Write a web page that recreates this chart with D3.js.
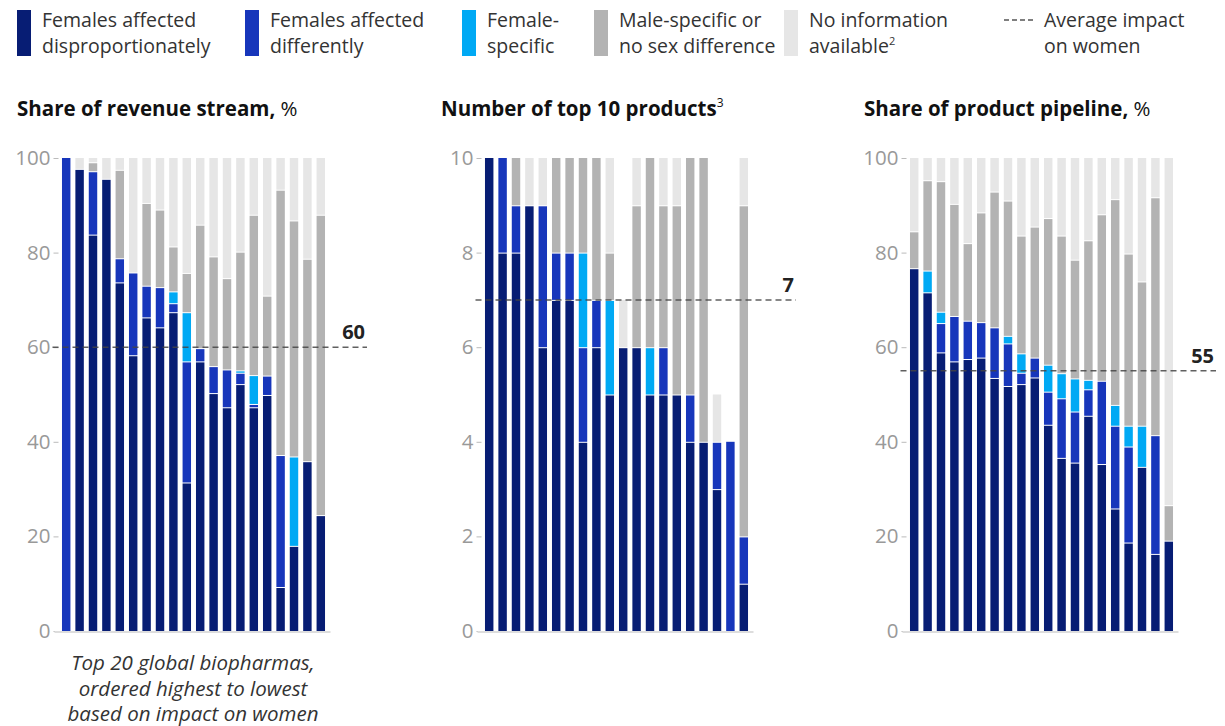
<!DOCTYPE html>
<html lang="en">
<head>
<meta charset="UTF-8" />
<title>Impact on women by biopharma</title>
<script src="https://d3js.org/d3.v7.min.js"></script>
<style>
    body { margin: 0; background: #fff; }
    svg { font-family: "Open Sans", Roboto, "Liberation Sans", Arial, sans-serif; }
</style>
</head>
<body>
<script>
    // categories, bottom to top of each stack
    var keys = ["disp", "diff", "fs", "male", "none"];
    var companies = d3.range(1, 21);

    // Share of revenue stream, %
    var revDisp = [0, 97.7, 83.8, 95.6, 73.7, 58.3, 66.3, 64.2, 67.4, 31.4, 57.0, 50.3, 47.3, 52.2, 47.3, 49.9, 9.3, 18.0, 35.9, 24.5];
    var revDiff = [100, 0, 13.4, 0, 5.1, 17.5, 6.7, 8.5, 1.9, 25.6, 2.8, 5.7, 8.0, 2.4, 0.7, 4.1, 27.9, 0, 0, 0];
    var revFs = [0, 0, 0, 0, 0, 0, 0, 0, 2.5, 10.4, 0, 0, 0, 0.5, 6.1, 0, 0, 18.9, 0, 0];
    var revMale = [0, 0, 1.9, 0, 18.7, 0, 17.5, 16.4, 9.5, 8.3, 26.1, 23.2, 19.3, 25.1, 33.9, 16.9, 56.1, 49.9, 42.8, 63.5];
    var revNone = [0, 2.3, 0.9, 4.4, 2.5, 24.2, 9.5, 10.9, 18.7, 24.3, 14.1, 20.8, 25.4, 19.8, 12.0, 29.1, 6.7, 13.2, 21.3, 12.0];

    // Number of top 10 products
    var prodDisp = [10, 8, 8, 9, 6, 7, 7, 4, 6, 5, 6, 6, 5, 5, 5, 4, 4, 3, 0, 1];
    var prodDiff = [0, 2, 1, 0, 3, 1, 1, 2, 1, 0, 0, 0, 0, 1, 0, 1, 0, 1, 4, 1];
    var prodFs = [0, 0, 0, 0, 0, 0, 0, 2, 0, 2, 0, 0, 1, 0, 0, 0, 0, 0, 0, 0];
    var prodMale = [0, 0, 1, 0, 0, 2, 2, 2, 3, 1, 0, 3, 4, 3, 4, 5, 6, 0, 0, 7];
    var prodNone = [0, 0, 0, 1, 1, 0, 0, 0, 0, 2, 1, 1, 0, 1, 1, 0, 0, 1, 0, 1];

    // Share of product pipeline, %
    var pipeDisp = [76.7, 71.6, 58.9, 57.0, 57.5, 57.8, 53.5, 51.8, 52.2, 53.6, 43.6, 36.6, 35.6, 45.5, 35.3, 25.9, 18.7, 34.7, 16.3, 19.1];
    var pipeDiff = [0, 0, 6.2, 9.6, 8.1, 7.5, 10.7, 9.0, 2.4, 4.2, 7.0, 12.6, 10.8, 5.6, 17.6, 17.5, 20.3, 0, 25.1, 0];
    var pipeFs = [0, 4.6, 2.4, 0, 0, 0, 0, 1.6, 4.1, 0, 5.7, 5.3, 7.0, 2.0, 0, 4.4, 4.4, 8.7, 0, 0];
    var pipeMale = [7.8, 19.1, 27.6, 23.7, 16.4, 23.2, 28.7, 28.6, 24.9, 27.7, 31.0, 29.1, 25.1, 29.5, 35.2, 43.5, 36.4, 30.5, 50.3, 7.5];
    var pipeNone = [15.5, 4.7, 4.9, 9.7, 18.0, 11.5, 7.1, 9.0, 16.4, 14.5, 12.7, 16.4, 21.5, 17.4, 11.9, 8.7, 20.2, 26.1, 8.3, 73.4];

    // averages and ticks
    var averages = [60, 7, 55];
    var pctTicks = [0, 20, 40, 60, 80, 100];
    var countTicks = [0, 2, 4, 6, 8, 10];

    var legendLabels = [
        ["Females affected", "disproportionately"],
        ["Females affected", "differently"],
        ["Female-", "specific"],
        ["Male-specific or", "no sex difference"],
        ["No information", "available"],
        ["Average impact", "on women"]
    ];

    var color = d3.scaleOrdinal()
        .domain(keys)
        .range(["#071d74", "#1736bb", "#00a9f4", "#b3b3b3", "#e6e6e6"]);

    var w = 1225;
    var h = 726;

    var svg = d3.select("body")
        .append("svg")
        .attr("width", w)
        .attr("height", h);

    // legend
    var legendX = [17, 245, 462, 594, 784, 1004];
    legendLabels.forEach(function (lab, i) {
        var g = svg.append("g").attr("transform", "translate(" + legendX[i] + ",0)");
        var tx = 25;
        if (i < 5) {
            g.append("rect")
                .attr("x", 0).attr("y", 10)
                .attr("width", 14).attr("height", 46)
                .attr("fill", color(keys[i]));
        } else {
            g.append("line")
                .attr("x1", 0).attr("x2", 30)
                .attr("y1", 20).attr("y2", 20)
                .attr("stroke", "#555")
                .attr("stroke-width", 1.5)
                .attr("stroke-dasharray", "5,3");
            tx = 40;
        }
        var t = g.append("text")
            .attr("fill", "#333")
            .attr("font-size", 19.5);
        t.append("tspan").attr("x", tx).attr("y", 27).text(lab[0]);
        t.append("tspan").attr("x", tx).attr("y", 53).text(lab[1]);
        if (i === 4) {
            t.append("tspan").attr("font-size", 11).attr("dy", -8).text("2");
        }
    });

    var panels = [
        { title: "Share of revenue stream,", unit: " %", sup: "", x0: 59.5, max: 100, ticks: pctTicks,
          avg: averages[0], avgX1: 367, series: [revDisp, revDiff, revFs, revMale, revNone] },
        { title: "Number of top 10 products", unit: "", sup: "3", x0: 482.5, max: 10, ticks: countTicks,
          avg: averages[1], avgX1: 796, series: [prodDisp, prodDiff, prodFs, prodMale, prodNone] },
        { title: "Share of product pipeline,", unit: " %", sup: "", x0: 907.5, max: 100, ticks: pctTicks,
          avg: averages[2], avgX1: 1216, series: [pipeDisp, pipeDiff, pipeFs, pipeMale, pipeNone] }
    ];

    var titleX = [17, 441, 864];

    panels.forEach(function (p, pi) {
        var rows = companies.map(function (c, i) {
            var r = { company: c };
            keys.forEach(function (k, ki) { r[k] = p.series[ki][i]; });
            return r;
        });

        var xScale = d3.scaleBand()
            .domain(companies)
            .range([p.x0, p.x0 + 268])
            .paddingInner(0.37)
            .paddingOuter(0.185);

        var yScale = d3.scaleLinear()
            .domain([0, p.max])
            .range([631, 158]);

        // title
        var title = svg.append("text")
            .attr("x", titleX[pi])
            .attr("y", 116)
            .attr("font-size", 20.5)
            .attr("fill", "#111");
        title.append("tspan").attr("font-weight", "bold").text(p.title);
        if (p.unit) title.append("tspan").text(p.unit);
        if (p.sup) title.append("tspan").attr("font-size", 12).attr("dy", -9).text(p.sup);

        // y axis
        var yAxis = svg.append("g")
            .attr("transform", "translate(" + (p.x0 - 1) + ",0)")
            .call(d3.axisLeft(yScale).tickValues(p.ticks).tickSize(5).tickPadding(3));
        yAxis.select(".domain").remove();
        yAxis.selectAll(".tick line").attr("stroke", "#bbb");
        yAxis.selectAll(".tick text")
            .attr("font-size", 20.5)
            .attr("font-family", "'Open Sans', sans-serif")
            .attr("fill", "#999");

        // baseline
        svg.append("line")
            .attr("x1", p.x0 - 5).attr("x2", p.x0 + 271)
            .attr("y1", yScale(0) + 1).attr("y2", yScale(0) + 1)
            .attr("stroke", "#ddd")
            .attr("stroke-width", 2);

        // stacked bars
        var stacked = d3.stack().keys(keys)(rows);
        stacked.forEach(function (layer) {
            svg.append("g")
                .attr("fill", color(layer.key))
                .selectAll("rect")
                .data(layer.filter(function (d) { return d[1] - d[0] > 0; }))
                .enter()
                .append("rect")
                .attr("x", function (d) { return xScale(d.data.company); })
                .attr("width", xScale.bandwidth())
                .attr("y", function (d) {
                    var isTop = Math.abs(d[1] - d3.sum(keys, function (k) { return d.data[k]; })) < 1e-6;
                    return yScale(d[1]) + (isTop ? 0 : 1);
                })
                .attr("height", function (d) {
                    var isTop = Math.abs(d[1] - d3.sum(keys, function (k) { return d.data[k]; })) < 1e-6;
                    return Math.max(0.6, yScale(d[0]) - yScale(d[1]) - (isTop ? 0 : 1));
                });
        });

        // average line
        svg.append("line")
            .attr("x1", p.x0 - 7).attr("x2", p.avgX1)
            .attr("y1", yScale(p.avg)).attr("y2", yScale(p.avg))
            .attr("stroke", "#444")
            .attr("stroke-opacity", 0.85)
            .attr("stroke-width", 1.5)
            .attr("stroke-dasharray", "6,4");

        svg.append("text")
            .attr("x", p.avgX1 - 2)
            .attr("y", yScale(p.avg) - 8)
            .attr("text-anchor", "end")
            .attr("font-size", 20)
            .attr("font-weight", "bold")
            .attr("fill", "#222")
            .text(p.avg);
    });

    // footnote under the first panel
    var note = ["Top 20 global biopharmas,", "ordered highest to lowest", "based on impact on women"];
    svg.append("text")
        .attr("text-anchor", "middle")
        .attr("font-size", 20.5)
        .attr("font-style", "italic")
        .attr("fill", "#333")
        .selectAll("tspan")
        .data(note)
        .enter()
        .append("tspan")
        .attr("x", 193)
        .attr("y", function (d, i) { return 670 + i * 25.5; })
        .text(function (d) { return d; });
</script>
</body>
</html>
